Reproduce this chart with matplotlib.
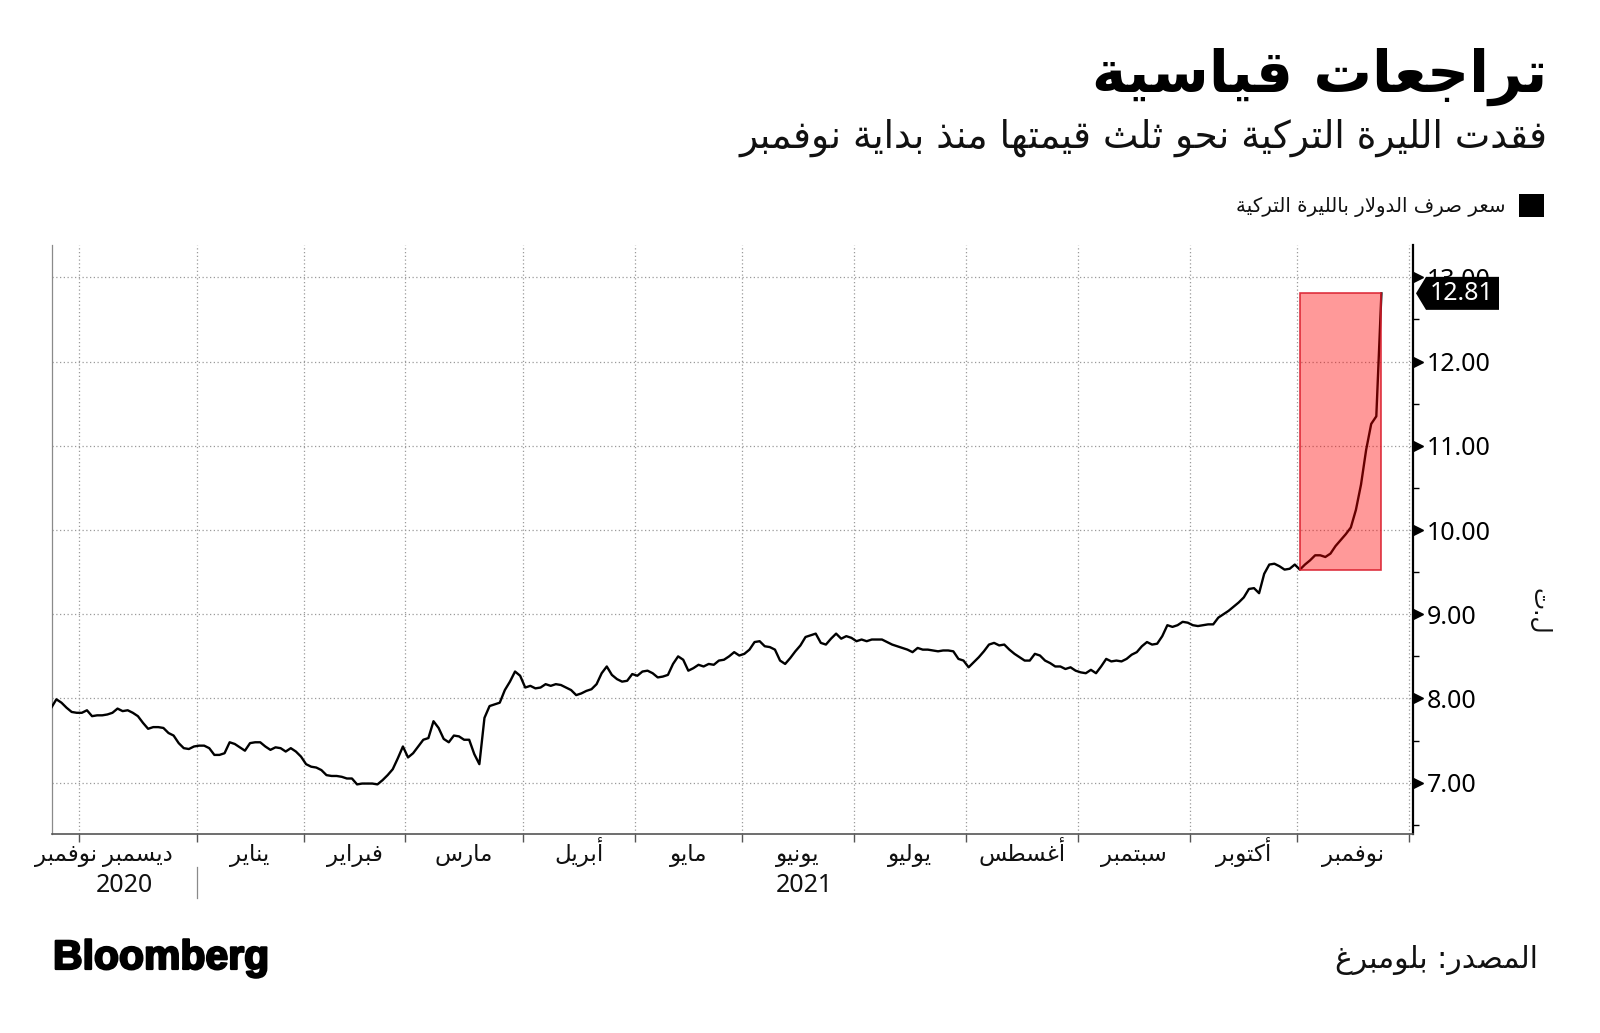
import numpy as np
import pandas as pd
import matplotlib
matplotlib.use("Agg")
import matplotlib.pyplot as plt
from matplotlib import transforms
from matplotlib import patheffects
from matplotlib.patches import Rectangle, Polygon

# ---------------- data ----------------
start_date = "2020-11-23"
end_date = "2021-11-23"
calendar_end = "2021-12-31"

usdtry = [
    7.89, 7.99, 7.95, 7.89, 7.84, 7.83, 7.83, 7.86, 7.79, 7.80,
    7.80, 7.81, 7.83, 7.88, 7.85, 7.86, 7.83, 7.79, 7.71, 7.64,
    7.66, 7.66, 7.65, 7.59, 7.56, 7.47, 7.41, 7.40, 7.43, 7.44,
    7.44, 7.41, 7.33, 7.33, 7.35, 7.48, 7.46, 7.42, 7.38, 7.47,
    7.48, 7.48, 7.43, 7.39, 7.42, 7.41, 7.37, 7.41, 7.37, 7.31,
    7.22, 7.19, 7.18, 7.15, 7.09, 7.08, 7.08, 7.07, 7.05, 7.05,
    6.98, 6.99, 6.99, 6.99, 6.98, 7.03, 7.09, 7.16, 7.29, 7.43,
    7.30, 7.35, 7.43, 7.51, 7.53, 7.73, 7.65, 7.52, 7.48, 7.56,
    7.55, 7.51, 7.51, 7.34, 7.22, 7.77, 7.91, 7.93, 7.95, 8.10,
    8.20, 8.32, 8.27, 8.13, 8.15, 8.12, 8.13, 8.17, 8.15, 8.17,
    8.16, 8.13, 8.10, 8.04, 8.06, 8.09, 8.11, 8.17, 8.30, 8.38,
    8.28, 8.23, 8.20, 8.21, 8.29, 8.27, 8.32, 8.33, 8.30, 8.25,
    8.26, 8.28, 8.41, 8.50, 8.46, 8.33, 8.36, 8.40, 8.38, 8.41,
    8.40, 8.45, 8.46, 8.50, 8.55, 8.51, 8.53, 8.58, 8.67, 8.68,
    8.62, 8.61, 8.58, 8.45, 8.41, 8.48, 8.56, 8.63, 8.73, 8.75,
    8.77, 8.66, 8.64, 8.71, 8.77, 8.71, 8.74, 8.72, 8.68, 8.70,
    8.68, 8.70, 8.70, 8.70, 8.67, 8.64, 8.62, 8.60, 8.58, 8.55,
    8.60, 8.58, 8.58, 8.57, 8.56, 8.57, 8.57, 8.56, 8.47, 8.45,
    8.37, 8.43, 8.49, 8.56, 8.64, 8.66, 8.63, 8.64, 8.58, 8.53,
    8.49, 8.45, 8.45, 8.53, 8.51, 8.45, 8.42, 8.38, 8.38, 8.35,
    8.37, 8.33, 8.31, 8.30, 8.34, 8.30, 8.38, 8.47, 8.44, 8.45,
    8.44, 8.47, 8.52, 8.55, 8.62, 8.67, 8.64, 8.65, 8.74, 8.87,
    8.85, 8.87, 8.91, 8.90, 8.87, 8.86, 8.87, 8.88, 8.88, 8.96,
    9.00, 9.04, 9.09, 9.14, 9.20, 9.30, 9.31, 9.25, 9.48, 9.59,
    9.60, 9.57, 9.53, 9.54, 9.59, 9.53, 9.59, 9.64, 9.70, 9.70,
    9.68, 9.72, 9.81, 9.88, 9.95, 10.03, 10.24, 10.54, 10.95, 11.26,
    11.35, 12.81,
]
highlight_start = "2021-11-01"

month_labels = ["نوفمبر", "ديسمبر", "يناير", "فبراير", "مارس", "أبريل", "مايو",
                "يونيو", "يوليو", "أغسطس", "سبتمبر", "أكتوبر", "نوفمبر"]
year_labels = ["2020", "2021"]
y_ticks = [7, 8, 9, 10, 11, 12, 13]

title = "تراجعات قياسية"
subtitle = "فقدت الليرة التركية نحو ثلث قيمتها منذ بداية نوفمبر"
legend_label = "سعر صرف الدولار بالليرة التركية"
y_unit = "ل.ت"
source = "المصدر: بلومبرغ"
brand = "Bloomberg"

# ---------------- Arabic shaping (presentation forms + visual order) ----------------
FORMS = {
    'ا': ('\uFE8D', '\uFE8E', None, None),
    'أ': ('\uFE83', '\uFE84', None, None),
    'ب': ('\uFE8F', '\uFE90', '\uFE91', '\uFE92'),
    'ة': ('\uFE93', '\uFE94', None, None),
    'ت': ('\uFE95', '\uFE96', '\uFE97', '\uFE98'),
    'ث': ('\uFE99', '\uFE9A', '\uFE9B', '\uFE9C'),
    'ج': ('\uFE9D', '\uFE9E', '\uFE9F', '\uFEA0'),
    'ح': ('\uFEA1', '\uFEA2', '\uFEA3', '\uFEA4'),
    'د': ('\uFEA9', '\uFEAA', None, None),
    'ذ': ('\uFEAB', '\uFEAC', None, None),
    'ر': ('\uFEAD', '\uFEAE', None, None),
    'س': ('\uFEB1', '\uFEB2', '\uFEB3', '\uFEB4'),
    'ص': ('\uFEB9', '\uFEBA', '\uFEBB', '\uFEBC'),
    'ط': ('\uFEC1', '\uFEC2', '\uFEC3', '\uFEC4'),
    'ع': ('\uFEC9', '\uFECA', '\uFECB', '\uFECC'),
    'غ': ('\uFECD', '\uFECE', '\uFECF', '\uFED0'),
    'ف': ('\uFED1', '\uFED2', '\uFED3', '\uFED4'),
    'ق': ('\uFED5', '\uFED6', '\uFED7', '\uFED8'),
    'ك': ('\uFED9', '\uFEDA', '\uFEDB', '\uFEDC'),
    'ل': ('\uFEDD', '\uFEDE', '\uFEDF', '\uFEE0'),
    'م': ('\uFEE1', '\uFEE2', '\uFEE3', '\uFEE4'),
    'ن': ('\uFEE5', '\uFEE6', '\uFEE7', '\uFEE8'),
    'ه': ('\uFEE9', '\uFEEA', '\uFEEB', '\uFEEC'),
    'و': ('\uFEED', '\uFEEE', None, None),
    'ي': ('\uFEF1', '\uFEF2', '\uFEF3', '\uFEF4'),
}
LAM_ALEF = {'ا': ('\uFEFB', '\uFEFC'), 'أ': ('\uFEF7', '\uFEF8')}


def shape(text):
    toks = []
    i = 0
    while i < len(text):
        c = text[i]
        if c == 'ل' and i + 1 < len(text) and text[i + 1] in LAM_ALEF:
            toks.append(('LA', text[i + 1]))
            i += 2
        else:
            toks.append(('C', c))
            i += 1

    def is_ar(t):
        return t[0] == 'LA' or t[1] in FORMS

    def joins_next(t):
        return t[0] == 'C' and t[1] in FORMS and FORMS[t[1]][2] is not None

    out = []
    for j, t in enumerate(toks):
        prev_ok = j > 0 and joins_next(toks[j - 1]) and is_ar(t)
        next_ok = j + 1 < len(toks) and is_ar(toks[j + 1]) and joins_next(t)
        if t[0] == 'LA':
            out.append(LAM_ALEF[t[1]][1 if prev_ok else 0])
        elif t[1] in FORMS:
            f = FORMS[t[1]]
            if prev_ok and next_ok:
                out.append(f[3])
            elif prev_ok:
                out.append(f[1])
            elif next_ok:
                out.append(f[2])
            else:
                out.append(f[0])
        else:
            out.append(t[1])
    return ''.join(reversed(out))


# ---------------- figure ----------------
W, H = 1600, 1033
fig = plt.figure(figsize=(W / 100, H / 100), dpi=100, facecolor="white")
renderer = fig.canvas.get_renderer()
AR = ["DejaVu Sans"]
NUM = ["Noto Sans", "DejaVu Sans"]


def fx(px):
    return px / W


def fy(py):
    return 1 - py / H


def fit_text(s, x, y, width, size0=20, **kw):
    t = fig.text(fx(x), fy(y), s, fontsize=size0, **kw)
    w = t.get_window_extent(renderer).width
    t.set_fontsize(size0 * width / w)
    return t


ax_l, ax_r, ax_t, ax_b = 52.3, 1413, 245, 834
ax = fig.add_axes([fx(ax_l), fy(ax_b), (ax_r - ax_l) / W, (ax_b - ax_t) / H])

cal = pd.bdate_range(start_date, calendar_end)
dates = pd.bdate_range(start_date, end_date)
assert len(dates) == len(usdtry)
x = np.arange(len(dates))
vals = np.array(usdtry)

# month boundaries (first business day of each month, boundary half a day before)
mstart = [i for i in range(1, len(cal)) if cal[i].month != cal[i - 1].month]
month_ticks = [i - 0.5 for i in mstart]

xlim = (0.2, month_ticks[-1] + 0.7)
ax.set_xlim(*xlim)
ax.set_ylim(6.391, 13.384)

ax.plot(x, vals, color="black", lw=1.7, zorder=3, solid_joinstyle="round")

# highlight box for November
i0 = int(np.searchsorted(dates, pd.Timestamp(highlight_start)))
ax.add_patch(Rectangle((x[i0], vals[i0]), x[-1] - x[i0], vals[-1] - vals[i0],
                       facecolor=(1, 0, 0, 0.4), edgecolor=(0.86, 0.12, 0.18, 0.9),
                       lw=1.2, zorder=4))

# grid
ax.set_yticks(y_ticks)
ax.set_xticks(month_ticks)
ax.grid(True, which="major", color="#9a9a9a", lw=0.9, ls=(0, (1, 2)))
ax.set_axisbelow(True)

# spines
ax.spines["top"].set_visible(False)
ax.spines["left"].set_color("#8a8a8a")
ax.spines["left"].set_linewidth(0.9)
ax.spines["bottom"].set_color("#555555")
ax.spines["bottom"].set_linewidth(1.2)
ax.spines["right"].set_color("black")
ax.spines["right"].set_linewidth(1.6)

# y axis on the right
ax.yaxis.tick_right()
ax.set_yticklabels([f"{v:.2f}" for v in y_ticks], fontsize=18, family=NUM)
ax.tick_params(axis="y", which="major", length=0, pad=10)
ax.set_yticks(np.arange(6.5, 13.5, 1.0), minor=True)
ax.tick_params(axis="y", which="minor", length=4, width=1, color="black", right=True, left=False)
ax.tick_params(axis="x", which="major", length=6, width=1, color="#555555", labelbottom=False)

tri = transforms.blended_transform_factory(ax.transAxes, ax.transData)
ax.plot([1 + 4.5 / (ax_r - ax_l)] * len(y_ticks), y_ticks, ls="none", marker=">",
        ms=6.5, color="black", transform=tri, clip_on=False, zorder=5)

# month labels
xf = transforms.blended_transform_factory(ax.transData, fig.transFigure)
bounds = [xlim[0]] + month_ticks
probe = fig.text(0, 0, shape("سبتمبر"), fontsize=16, family=AR)
msize = 16 * 66 / probe.get_window_extent(renderer).width
probe.remove()
for k, lab in enumerate(month_labels):
    c = (bounds[k] + bounds[k + 1]) / 2
    ax.text(c, fy(861), shape(lab), transform=xf, ha="center", va="baseline",
            fontsize=msize, family=AR, color="#111111")

# year labels
jan = month_ticks[1]
ax.text((xlim[0] + jan) / 2, fy(891.5), year_labels[0], transform=xf, ha="center",
        va="baseline", fontsize=18, family=NUM, color="#111111")
ax.text((jan + xlim[1]) / 2, fy(891.5), year_labels[1], transform=xf, ha="center",
        va="baseline", fontsize=18, family=NUM, color="#111111")
ax.plot([jan, jan], [fy(867), fy(898)], transform=xf, color="#8a8a8a", lw=0.9, clip_on=False)

# last value tag
fig.canvas.draw()
y0 = ax.transData.transform((0, vals[-1]))[1]
xr = ax.transAxes.transform((1, 0))[0]
tag = Polygon([(xr + 3, y0), (xr + 13, y0 + 16.5), (xr + 86, y0 + 16.5),
               (xr + 86, y0 - 16.5), (xr + 13, y0 - 16.5)], closed=True,
              transform=None, facecolor="black", edgecolor="none", zorder=10)
fig.patches.append(tag)
fig.text((xr + 49) / W, y0 / H, f"{vals[-1]:.2f}", color="white", fontsize=18,
         family=NUM, ha="center", va="center", zorder=11)

# y unit
fig.text(fx(1540), fy(611), shape(y_unit), rotation=270, ha="center", va="center",
         fontsize=17, family=AR, color="#111111")

# titles
fit_text(shape(title), 1547, 92, 455, size0=40, family=AR, weight="bold",
         ha="right", va="baseline", color="black")
fit_text(shape(subtitle), 1547, 148, 808, size0=26, family=AR,
         ha="right", va="baseline", color="#111111")

# legend
fig.patches.append(Rectangle((fx(1519), fy(217)), 25 / W, 23 / H, transform=fig.transFigure,
                             facecolor="black", edgecolor="none"))
fit_text(shape(legend_label), 1506, 212, 271, size0=14, family=AR,
         ha="right", va="baseline", color="#111111")

# footer
fit_text(brand, 53, 969, 216, size0=30, family=["Liberation Sans", "DejaVu Sans"],
         weight="bold", ha="left", va="baseline", color="black",
         path_effects=[patheffects.withStroke(linewidth=1.6, foreground="black")])
fit_text(shape(source), 1538, 968, 203, size0=20, family=AR,
         ha="right", va="baseline", color="#111111")

fig.savefig("out.png", dpi=100, facecolor="white")
